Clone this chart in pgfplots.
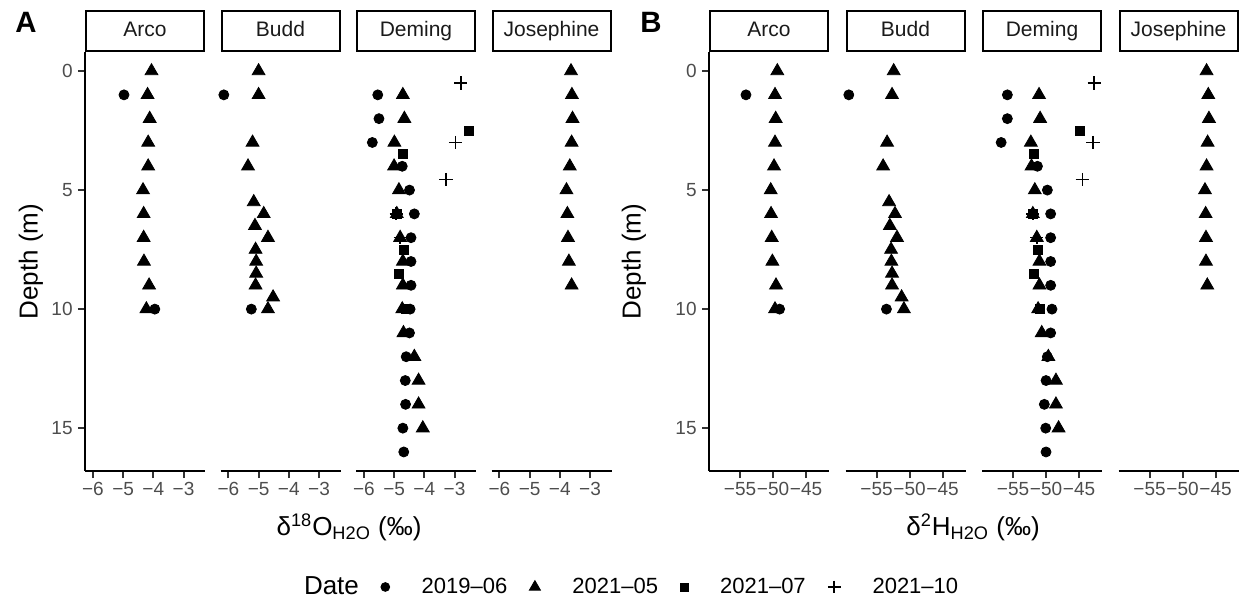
\documentclass[border=0pt]{standalone}
\usepackage{pgfplots}
\pgfplotsset{compat=1.18}
\usepackage{fontspec}
\setmainfont{Liberation Sans}
\definecolor{tickgray}{HTML}{4D4D4D}
\definecolor{tickmark}{HTML}{333333}
\definecolor{stripgray}{HTML}{1A1A1A}
\tikzset{
  strip/.style={draw=black, line width=1pt, minimum width=59pt, minimum height=20pt, inner sep=0pt, anchor=south, text=stripgray, font=\fontsize{10.5}{12}\selectfont, text height=7.6pt, text depth=2.2pt},
}
\pgfplotsset{
  facet/.style={
    scale only axis, width=60pt, height=209.5pt,
    y dir=reverse, ymin=-0.8, ymax=16.8,
    clip=false,
    axis x line*=bottom,
    axis line style={line width=1pt, -},
    tick align=outside, major tick length=3.5pt,
    tick style={color=tickmark, line width=1pt},
    xticklabel style={font=\fontsize{9.5}{10}\selectfont, text=tickgray, inner sep=1pt, yshift=-1pt},
    yticklabel style={font=\fontsize{9.5}{10}\selectfont, text=tickgray, inner sep=1pt, xshift=-1.5pt},
  },
  facetfirst/.style={axis y line*=left, ytick={0,5,10,15}, yticklabels={0,5,10,15}},
  facetother/.style={axis y line=none, ytick=\empty},
  pA/.style={xmin=-6.26, xmax=-2.29, xtick={-6,-5,-4,-3}, xticklabels={−6,−5,−4,−3}},
  pB/.style={xmin=-59.7, xmax=-41.52, xtick={-55,-50,-45}, xticklabels={−55,−50,−45}},
  d19/.style={only marks, mark=*, mark size=2.5pt, black},
  d215/.style={only marks, mark=triangle*, mark size=3.7pt, black},
  d217/.style={only marks, mark=square*, mark size=2.25pt, black},
  d2110/.style={only marks, mark=+, mark size=3.3pt, black, mark options={line width=0.75pt}},
}
\begin{document}
\begin{tikzpicture}
\path (0pt,0pt) rectangle (620.5pt,300pt);
% ---------------- Panel A ----------------
\begin{axis}[facet, facetfirst, pA, at={(42.5pt,64.5pt)}, anchor=south west,
  legend style={at={(4.434,-0.2768)}, anchor=center, draw=none, fill=none, legend columns=-1,
    font=\fontsize{11}{12}\selectfont,
    /tikz/every odd column/.append style={column sep=14pt},
    /tikz/every even column/.append style={column sep=9pt}}]
\node[strip] at (axis description cs:0.5,1) {Arco};
\addplot[d19, forget plot] coordinates {(-4.97,1) (-3.95,10)};
\addplot[d215, forget plot] coordinates {(-4.06,0) (-4.19,1) (-4.12,2) (-4.17,3) (-4.17,4) (-4.34,5) (-4.32,6) (-4.32,7) (-4.31,8) (-4.14,9) (-4.23,10)};
\addlegendimage{empty legend}
\addlegendentry{\fontsize{13}{14}\selectfont Date\hspace{5pt}}
\addlegendimage{only marks, mark=*, mark size=2.2pt, black}
\addlegendentry{2019–06}
\addlegendimage{only marks, mark=triangle*, mark size=3.2pt, black}
\addlegendentry{2021–05}
\addlegendimage{only marks, mark=square*, mark size=2pt, black}
\addlegendentry{2021–07}
\addlegendimage{only marks, mark=+, mark size=3.2pt, black, mark options={line width=0.75pt}}
\addlegendentry{2021–10}
\end{axis}
\begin{axis}[facet, facetother, pA, at={(110.25pt,64.5pt)}, anchor=south west]
\node[strip] at (axis description cs:0.5,1) {Budd};
\addplot[d19] coordinates {(-6.15,1) (-5.24,10)};
\addplot[d215] coordinates {(-5.0,0) (-5.0,1) (-5.2,3) (-5.35,4) (-5.16,5.5) (-4.83,6) (-5.12,6.5) (-4.69,7) (-5.1,7.5) (-5.08,8) (-5.08,8.5) (-5.1,9) (-4.52,9.5) (-4.69,10)};
\end{axis}
\begin{axis}[facet, facetother, pA, at={(178pt,64.5pt)}, anchor=south west]
\node[strip] at (axis description cs:0.5,1) {Deming};
\addplot[d19] coordinates {(-5.54,1) (-5.5,2) (-5.72,3) (-4.73,4) (-4.49,5) (-4.33,6) (-4.44,7) (-4.44,8) (-4.44,9) (-4.47,10) (-4.49,11) (-4.6,12) (-4.63,13) (-4.62,14) (-4.71,15) (-4.68,16)};
\addplot[d215] coordinates {(-4.71,1) (-4.66,2) (-4.99,3) (-5.0,4) (-4.84,5) (-4.91,6) (-4.8,7) (-4.71,8) (-4.71,9) (-4.73,10) (-4.69,11) (-4.33,12) (-4.19,13) (-4.19,14) (-4.05,15)};
\addplot[d217] coordinates {(-2.51,2.5) (-4.71,3.5) (-4.91,6) (-4.66,7.5) (-4.85,8.5) (-4.6,10)};
\addplot[d2110] coordinates {(-2.79,0.5) (-2.97,3) (-3.28,4.55) (-4.93,6) (-4.8,7)};
\end{axis}
\begin{axis}[facet, facetother, pA, at={(245.75pt,64.5pt)}, anchor=south west]
\node[strip] at (axis description cs:0.5,1) {Josephine};
\addplot[d215] coordinates {(-3.63,0) (-3.6,1) (-3.58,2) (-3.61,3) (-3.67,4) (-3.78,5) (-3.75,6) (-3.73,7) (-3.7,8) (-3.61,9)};
\end{axis}
% ---------------- Panel B ----------------
\begin{axis}[facet, facetfirst, pB, at={(354.5pt,64.5pt)}, anchor=south west]
\node[strip] at (axis description cs:0.5,1) {Arco};
\addplot[d19] coordinates {(-54.1,1) (-49.0,10)};
\addplot[d215] coordinates {(-49.35,0) (-49.7,1) (-49.6,2) (-49.7,3) (-49.85,4) (-50.35,5) (-50.3,6) (-50.2,7) (-50.1,8) (-49.55,9) (-49.7,10)};
\end{axis}
\begin{axis}[facet, facetother, pB, at={(422.75pt,64.5pt)}, anchor=south west]
\node[strip] at (axis description cs:0.5,1) {Budd};
\addplot[d19] coordinates {(-59.2,1) (-53.5,10)};
\addplot[d215] coordinates {(-52.4,0) (-52.65,1) (-53.4,3) (-54.0,4) (-53.1,5.5) (-52.2,6) (-52.98,6.5) (-51.9,7) (-52.8,7.5) (-52.75,8) (-52.65,8.5) (-52.65,9) (-51.2,9.5) (-50.85,10)};
\end{axis}
\begin{axis}[facet, facetother, pB, at={(491pt,64.5pt)}, anchor=south west]
\node[strip] at (axis description cs:0.5,1) {Deming};
\addplot[d19] coordinates {(-55.86,1) (-55.86,2) (-56.8,3) (-51.3,4) (-49.8,5) (-49.3,6) (-49.3,7) (-49.3,8) (-49.3,9) (-49.1,10) (-49.3,11) (-49.8,12) (-50.0,13) (-50.26,14) (-50.05,15) (-50.0,16)};
\addplot[d215] coordinates {(-51.06,1) (-50.9,2) (-52.3,3) (-52.2,4) (-51.7,5) (-52.0,6) (-51.4,7) (-51.0,8) (-51.0,9) (-51.2,10) (-50.65,11) (-49.65,12) (-48.5,13) (-48.5,14) (-48.1,15)};
\addplot[d217] coordinates {(-44.85,2.5) (-51.9,3.5) (-52.0,6) (-51.3,7.5) (-51.8,8.5) (-51.0,10)};
\addplot[d2110] coordinates {(-42.7,0.5) (-42.9,3) (-44.5,4.55) (-52.0,6) (-51.4,7)};
\end{axis}
\begin{axis}[facet, facetother, pB, at={(559.25pt,64.5pt)}, anchor=south west]
\node[strip] at (axis description cs:0.5,1) {Josephine};
\addplot[d215] coordinates {(-46.36,0) (-46.1,1) (-46.0,2) (-46.2,3) (-46.36,4) (-46.6,5) (-46.5,6) (-46.45,7) (-46.45,8) (-46.25,9)};
\end{axis}
% ---------------- labels ----------------
\node[font=\fontsize{13}{14}\selectfont, rotate=90] at (15.5pt,169.25pt) {Depth (m)};
\node[font=\fontsize{13}{14}\selectfont, rotate=90] at (317pt,169.25pt) {Depth (m)};
\node[font=\fontsize{13}{14}\selectfont] at (174.5pt,36.5pt) {δ\textsuperscript{18}O\textsubscript{H2O} (‰)};
\node[font=\fontsize{13}{14}\selectfont] at (486.5pt,36.5pt) {δ\textsuperscript{2}H\textsubscript{H2O} (‰)};
\node[font=\bfseries\fontsize{14.7}{16}\selectfont] at (13pt,288.75pt) {A};
\node[font=\bfseries\fontsize{14.7}{16}\selectfont] at (325.5pt,289pt) {B};
\end{tikzpicture}
\end{document}
